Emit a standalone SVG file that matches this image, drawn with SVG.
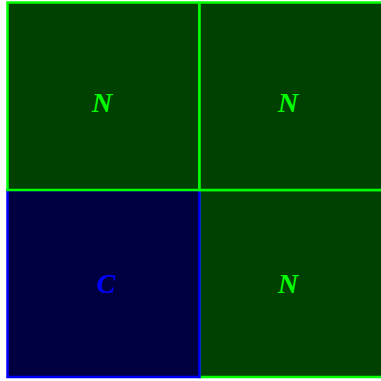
<svg xmlns="http://www.w3.org/2000/svg" width="381" height="381" viewBox="0 0 381 381">
<style>
.g rect{fill:#004000;stroke:#00ff00;stroke-width:2.5}
.b rect{fill:#000040;stroke:#0000ff;stroke-width:2.5}
.g text{fill:#00ff00}
.b text{fill:#0000ff}
text{font-family:"Liberation Serif",serif;font-style:italic;font-weight:bold;font-size:28px;text-anchor:middle}
</style>
<g id="cell-br" class="g"><rect x="199.5" y="190" width="192" height="187"/><text x="288" y="293">N</text></g>
<g id="cell-bl" class="b"><rect x="7.5" y="190" width="192" height="187"/><text x="106" y="293">C</text></g>
<g id="cell-tl" class="g"><rect x="7.5" y="2.5" width="192" height="187.5"/><text x="102" y="112">N</text></g>
<g id="cell-tr" class="g"><rect x="199.5" y="2.5" width="192" height="187.5"/><text x="288" y="112">N</text></g>
<g id="connectors"/>
</svg>
